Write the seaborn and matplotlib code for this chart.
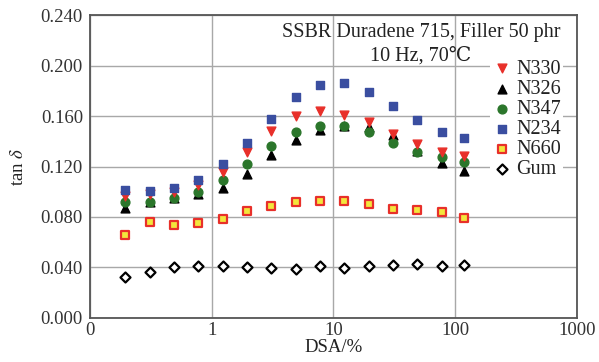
import numpy as np
import pandas as pd
import matplotlib
matplotlib.use("Agg")
import matplotlib.pyplot as plt
import seaborn as sns
from matplotlib.ticker import FixedLocator, FixedFormatter, NullLocator

dsa = [0.196, 0.31, 0.49, 0.78, 1.23, 1.95, 3.09, 4.9, 7.76, 12.3, 19.5, 30.9, 49, 77.6, 118]
n330 = [0.097, 0.098, 0.100, 0.105, 0.116, 0.1315, 0.148, 0.160, 0.164, 0.161, 0.155, 0.1455, 0.138, 0.1315, 0.128]
n326 = [0.087, 0.092, 0.095, 0.098, 0.103, 0.114, 0.129, 0.141, 0.149, 0.1525, 0.151, 0.145, 0.1325, 0.123, 0.1165]
n347 = [0.092, 0.092, 0.095, 0.0995, 0.109, 0.122, 0.136, 0.1475, 0.1525, 0.1525, 0.147, 0.139, 0.1315, 0.1275, 0.1235]
n234 = [0.101, 0.1005, 0.103, 0.109, 0.122, 0.139, 0.158, 0.175, 0.185, 0.186, 0.179, 0.168, 0.157, 0.1475, 0.143]
n660 = [0.066, 0.076, 0.074, 0.0755, 0.0785, 0.085, 0.0885, 0.092, 0.093, 0.0925, 0.090, 0.0865, 0.0855, 0.084, 0.079]
gum = [0.032, 0.036, 0.040, 0.041, 0.041, 0.040, 0.0395, 0.039, 0.041, 0.0395, 0.041, 0.042, 0.0425, 0.0415, 0.042]

x_ticks = [0.1, 1, 10, 100, 1000]
x_tick_labels = ["0", "1", "10", "100", "1000"]
y_ticks = [0.0, 0.04, 0.08, 0.12, 0.16, 0.20, 0.24]
y_tick_labels = ["0.000", "0.040", "0.080", "0.120", "0.160", "0.200", "0.240"]

sns.set_theme(style="white")
plt.rcParams['font.family'] = ['Liberation Serif', 'DejaVu Serif']
plt.rcParams['mathtext.fontset'] = 'stix'

fig = plt.figure(figsize=(5.99, 3.62), dpi=100)
ax = fig.add_axes([0.150, 0.122, 0.813, 0.836])

series = [
    ("N330", n330, "v", "#e8302a", "#e8302a", 4, 1.0),
    ("N326", n326, "^", "black", "black", 2, 1.0),
    ("N347", n347, "o", "#2b762b", "#2b762b", 3, 1.0),
    ("N234", n234, "s", "#3a4ea0", "#3a4ea0", 5, 1.0),
    ("N660", n660, "s", "#f3e63c", "#e8302a", 3, 1.6),
    ("Gum", gum, "D", "white", "black", 3, 1.6),
]

for name, vals, mk, fc, ec, z, lw in series:
    df = pd.DataFrame({"DSA": dsa, "tan": vals})
    sz = 40 if mk != "D" else 26
    sns.scatterplot(data=df, x="DSA", y="tan", marker=mk, color=fc, edgecolor=ec,
                    linewidth=lw, s=sz, ax=ax, zorder=z, label=name)

ax.set_xscale("log")
ax.set_xlim(0.1, 1000)
ax.set_ylim(0, 0.24)
ax.xaxis.set_major_locator(FixedLocator(x_ticks))
ax.xaxis.set_major_formatter(FixedFormatter(x_tick_labels))
ax.xaxis.set_minor_locator(NullLocator())
ax.set_yticks(y_ticks)
ax.set_yticklabels(y_tick_labels)
ax.grid(True, color="#a8a8a8", linewidth=1.0)
ax.set_axisbelow(True)
ax.tick_params(axis="both", length=0, labelsize=13.5, colors="#333333")
ax.tick_params(axis="x", pad=3)
ax.tick_params(axis="y", pad=5)
for sp in ax.spines.values():
    sp.set_color("#555555")
    sp.set_linewidth(1.3)

ax.set_xlabel("DSA/%", fontsize=13.5, labelpad=0, color="#222222")
ax.set_ylabel(r"tan $\mathit{\delta}$", fontsize=13.5, labelpad=10, color="#222222")

ax.text(0.68, 0.975, "SSBR Duradene 715, Filler 50 phr", transform=ax.transAxes,
        ha="center", va="top", fontsize=14.5, color="#222222")
ax.text(0.68, 0.898, "10 Hz, 70\u2103", transform=ax.transAxes,
        ha="center", va="top", fontsize=14.5, color="#222222")

leg = ax.legend(loc="upper left", bbox_to_anchor=(0.822, 0.86), frameon=True,
                fontsize=14.5, labelspacing=0.05, handletextpad=0.2,
                borderpad=0.1, handlelength=1.0, borderaxespad=0)
leg.get_frame().set_facecolor("white")
leg.get_frame().set_edgecolor("none")
leg.get_frame().set_alpha(1)
for t in leg.get_texts():
    t.set_color("#222222")

fig.savefig("out.png", dpi=100)
